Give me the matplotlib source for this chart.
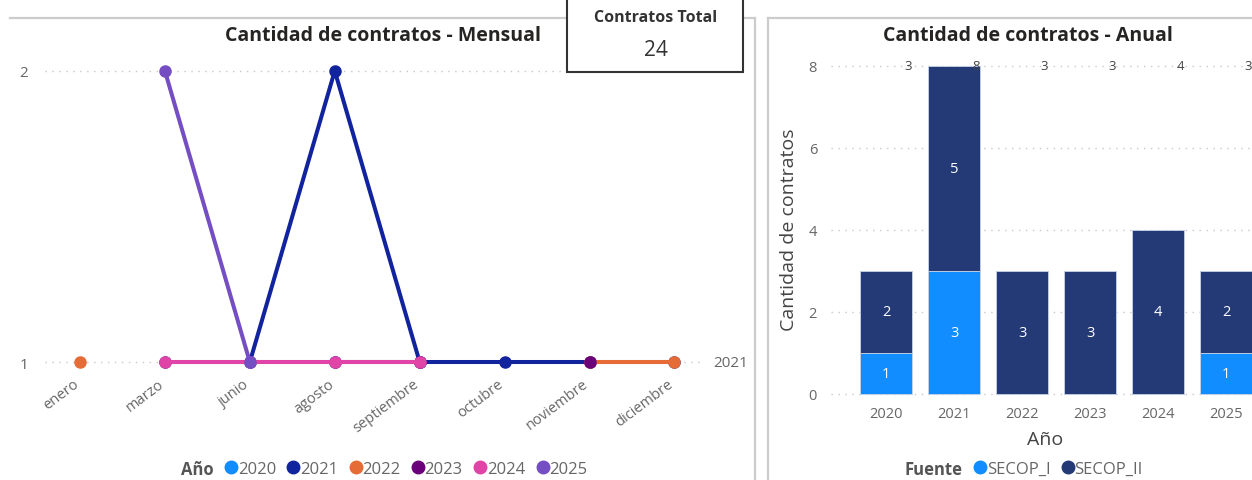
import matplotlib.pyplot as plt
from matplotlib.lines import Line2D
from matplotlib.patches import Rectangle
from matplotlib.transforms import ScaledTranslation

# ---- data ----
meses = ['enero', 'marzo', 'junio', 'agosto', 'septiembre', 'octubre', 'noviembre', 'diciembre']
anios_linea = ['2020', '2021', '2022', '2023', '2024', '2025']
c2020 = [None, None, 1, 1, 1, None, None, None]
c2021 = [None, 1, 1, 2, 1, 1, 1, 1]
c2022 = [1, None, None, None, None, None, 1, 1]
c2023 = [None, None, None, 1, 1, None, 1, None]
c2024 = [None, 1, 1, 1, 1, None, None, None]
c2025 = [None, 2, 1, None, None, None, None, None]
series_mes = [c2020, c2021, c2022, c2023, c2024, c2025]
colores_anio = ['#118DFF', '#12239E', '#E66C37', '#6B007B', '#E044A7', '#744EC2']

anios_barra = ['2020', '2021', '2022', '2023', '2024', '2025']
secop_i = [1, 3, 0, 0, 0, 1]
secop_ii = [2, 5, 3, 3, 4, 2]
total_contratos = 24

col_i = '#118DFF'
col_ii = '#233A77'
gris = '#666666'
W, H = 1252, 481

plt.rcParams['font.family'] = ['Open Sans', 'DejaVu Sans']

fig = plt.figure(figsize=(W / 100, H / 100), dpi=100)


def px_axes(x0, y0, x1, y1):
    return fig.add_axes([x0 / W, 1 - y1 / H, (x1 - x0) / W, (y1 - y0) / H])


def fx(x):
    return x / W


def fy(y):
    return 1 - y / H


# ---- panel frames ----
frame = dict(color='#cccccc', lw=1.6, transform=fig.transFigure)
fig.add_artist(Line2D([fx(10), fx(755)], [fy(19), fy(19)], **frame))
fig.add_artist(Line2D([fx(755), fx(755)], [fy(19), fy(481)], **frame))
fig.add_artist(Line2D([fx(768), fx(1252)], [fy(19), fy(19)], **frame))
fig.add_artist(Line2D([fx(768), fx(768)], [fy(19), fy(481)], **frame))

# ---- line chart ----
ax = px_axes(45, 60, 705, 380)
x = list(range(len(meses)))
for vals, col in zip(series_mes, colores_anio):
    yv = [float('nan') if v is None else v for v in vals]
    ax.plot(x, yv, color=col, lw=2.9, marker='o', ms=8, solid_capstyle='round', snap=False)
ax.set_xlim(-0.412, 7.36)
ax.set_ylim(0.9416, 2.041)
ax.set_yticks([1, 2])
ax.set_yticklabels(['1', '2'], color=gris, fontsize=11)
ax.set_xticks([])
# month labels, rotated, anchored just left of each category
shift = ScaledTranslation(-7 / 100, 3 / 100, fig.dpi_scale_trans)
for i, m in zip(x, meses):
    ax.text(i, 0, m, transform=ax.get_xaxis_transform() + shift, rotation=37,
            rotation_mode='anchor', ha='right', va='top', color=gris, fontsize=10.5)
ax.tick_params(length=0, axis='y', pad=12)
ax.grid(axis='y', color='#c8c8c8', ls=(0, (1, 4)), lw=1)
ax.set_axisbelow(True)
for s in ax.spines.values():
    s.set_visible(False)
ax.text(7.456, 1, '2021', color=gris, fontsize=11, va='center', ha='left')
fig.text(fx(383), fy(36), 'Cantidad de contratos - Mensual', ha='center', va='center',
         fontsize=14, fontweight='bold', color='#252423')

fig.text(fx(214), fy(470), 'Año', ha='right', va='center', fontsize=12,
         fontweight='bold', color='#555555')
handles = [Line2D([], [], ls='none', marker='o', ms=9, color=c) for c in colores_anio]
fig.legend(handles, anios_linea, loc='center left', bbox_to_anchor=(fx(226), fy(470)),
           ncol=6, frameon=False, handlelength=0.6, handletextpad=0.1, columnspacing=0.75,
           fontsize=12, labelcolor=gris, borderaxespad=0, borderpad=0)

# ---- KPI card ----
fig.add_artist(Rectangle((fx(567), fy(73)), fx(743 - 567), fy(-5) - fy(73),
                         transform=fig.transFigure, facecolor='white',
                         edgecolor='#333333', lw=1.5, zorder=5))
fig.text(fx(656), fy(18), 'Contratos Total', ha='center', va='center', fontsize=11.5,
         fontweight='bold', color='#333333', zorder=6)
fig.text(fx(656), fy(50), str(total_contratos), ha='center', va='center', fontsize=15,
         color='#333333', zorder=6)

# ---- bar chart ----
bx = px_axes(831, 60, 1260, 399)
xb = list(range(len(anios_barra)))
bw = 0.765
bx.bar(xb, secop_i, width=bw, color=col_i, edgecolor='#c8d4ea', lw=0.6)
bx.bar(xb, secop_ii, width=bw, bottom=secop_i, color=col_ii, edgecolor='#c8d4ea', lw=0.6)
for i in xb:
    if secop_i[i] > 0:
        bx.text(i, secop_i[i] / 2, str(secop_i[i]), color='white', ha='center',
                va='center', fontsize=10.5)
    if secop_ii[i] > 0:
        bx.text(i, secop_i[i] + secop_ii[i] / 2, str(secop_ii[i]), color='white',
                ha='center', va='center', fontsize=10.5)
    bx.text(i + 0.33, 8, str(secop_i[i] + secop_ii[i]), color='#444444', ha='center',
            va='center', fontsize=9.5)
bx.set_xlim(-0.81, 5.5)
bx.set_ylim(-0.1, 8.17)
bx.set_yticks([0, 2, 4, 6, 8])
bx.set_yticklabels(['0', '2', '4', '6', '8'], color=gris, fontsize=10.5)
bx.set_xticks(xb)
bx.set_xticklabels(anios_barra, color=gris, fontsize=10.5)
bx.tick_params(length=0, axis='y', pad=10)
bx.tick_params(length=0, axis='x', pad=6)
bx.grid(axis='y', color='#c8c8c8', ls=(0, (1, 4)), lw=1)
bx.set_axisbelow(True)
for s in bx.spines.values():
    s.set_visible(False)
bx.set_xlabel('Año', fontsize=14, color='#444444', labelpad=6)
bx.set_ylabel('Cantidad de contratos', fontsize=14, color='#444444', labelpad=8)
fig.text(fx(1028), fy(36), 'Cantidad de contratos - Anual', ha='center', va='center',
         fontsize=14, fontweight='bold', color='#252423')

fig.text(fx(963), fy(470), 'Fuente', ha='right', va='center', fontsize=12,
         fontweight='bold', color='#555555')
h2 = [Line2D([], [], ls='none', marker='o', ms=9, color=c) for c in (col_i, col_ii)]
fig.legend(h2, ['SECOP_I', 'SECOP_II'], loc='center left', bbox_to_anchor=(fx(975), fy(470)),
           ncol=2, frameon=False, handlelength=0.6, handletextpad=0.1, columnspacing=0.75,
           fontsize=12, labelcolor=gris, borderaxespad=0, borderpad=0)

fig.savefig('out.png', dpi=100)
